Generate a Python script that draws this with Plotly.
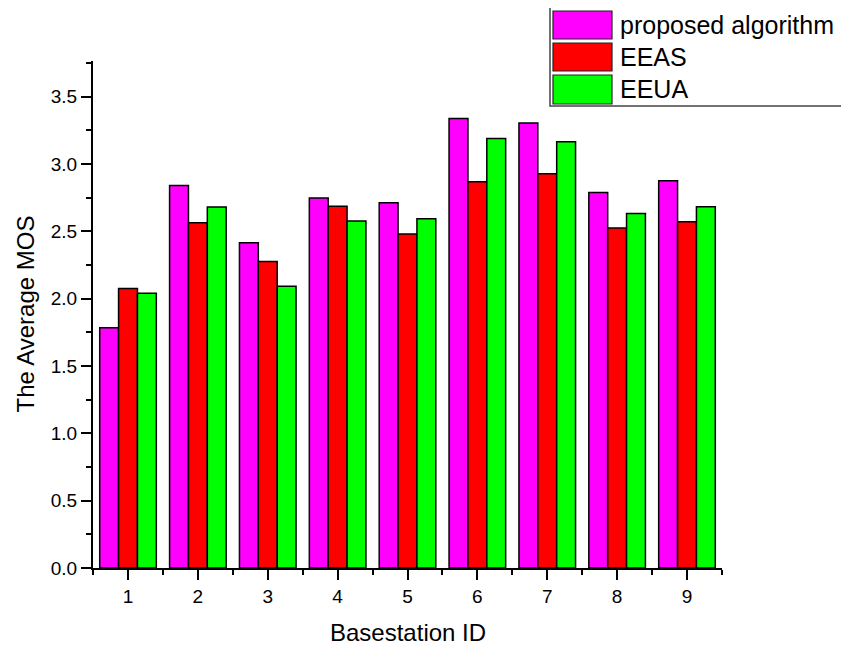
import plotly.graph_objects as go

basestation_ids = [1, 2, 3, 4, 5, 6, 7, 8, 9]
proposed = [1.785, 2.84, 2.415, 2.747, 2.712, 3.338, 3.304, 2.788, 2.875]
eeas = [2.075, 2.563, 2.276, 2.687, 2.481, 2.868, 2.927, 2.524, 2.571]
eeua = [2.04, 2.68, 2.093, 2.576, 2.593, 3.19, 3.165, 2.632, 2.682]
series_names = ["proposed algorithm", "EEAS", "EEUA"]
series_colors = ["#FF00FF", "#FF0000", "#00FF00"]
y_tick_vals = [0.0, 0.5, 1.0, 1.5, 2.0, 2.5, 3.0, 3.5]

# window is 849x648; the page body adds an 8px offset
OFF = 8
WIN_W, WIN_H = 849, 648
L_PX, R_PX, T_PX, B_PX = 93, 722, 61, 568   # plot area in window pixels
W, H = WIN_W - OFF, WIN_H - OFF
ML, MT = L_PX - OFF, T_PX - OFF
MR, MB = WIN_W - R_PX, WIN_H - B_PX
PW, PH = R_PX - L_PX, B_PX - T_PX
FONT = "Arial, Liberation Sans, sans-serif"


def px2x(px):
    return (px - L_PX) / PW


def py2y(py):
    return (B_PX - py) / PH


fig = go.Figure()
for name, vals, col in zip(series_names, [proposed, eeas, eeua], series_colors):
    fig.add_trace(go.Bar(
        x=basestation_ids, y=vals, name=name,
        marker=dict(color=col, line=dict(color="black", width=1.5)),
        showlegend=False,
    ))

# custom legend (box with large swatches)
shapes = [dict(type="rect", xref="paper", yref="paper",
               x0=px2x(550), x1=px2x(847), y0=py2y(106), y1=py2y(5),
               line=dict(color="#444444", width=1.5), fillcolor="white")]
annotations = []
rows = [(11, 39), (43, 71), (75, 104)]
for (t, b), name, col in zip(rows, series_names, series_colors):
    shapes.append(dict(type="rect", xref="paper", yref="paper",
                       x0=px2x(553), x1=px2x(612), y0=py2y(b), y1=py2y(t),
                       line=dict(color="#222222", width=1.2), fillcolor=col))
    annotations.append(dict(xref="paper", yref="paper", x=px2x(618),
                            y=py2y((t + b) / 2), text=name, showarrow=False,
                            xanchor="left", yanchor="middle",
                            font=dict(family=FONT, size=25, color="black")))

# axis titles
annotations.append(dict(xref="paper", yref="paper", x=px2x(408), y=py2y(632),
                        text="Basestation ID", showarrow=False,
                        xanchor="center", yanchor="middle",
                        font=dict(family=FONT, size=24, color="black")))
annotations.append(dict(xref="paper", yref="paper", x=px2x(25), y=py2y(314.5),
                        text="The Average MOS", showarrow=False, textangle=-90,
                        xanchor="center", yanchor="middle",
                        font=dict(family=FONT, size=24, color="black")))

fig.update_layout(
    width=W, height=H,
    margin=dict(l=ML, r=MR, t=MT, b=MB, pad=0, autoexpand=False),
    paper_bgcolor="white", plot_bgcolor="white",
    barmode="group", bargap=0.19, bargroupgap=0,
    font=dict(family=FONT, size=19, color="black"),
    shapes=shapes, annotations=annotations,
)
fig.update_xaxes(
    range=[0.499, 9.501], tickmode="array", tickvals=basestation_ids,
    ticktext=[str(v) for v in basestation_ids], automargin=False,
    showline=True, linecolor="black", linewidth=2, showgrid=False, zeroline=False,
    ticks="outside", ticklen=10, tickwidth=2, tickcolor="black",
    minor=dict(tickmode="array", tickvals=[i + 0.5 for i in range(0, 10)],
               ticks="outside", ticklen=5, tickwidth=2, tickcolor="black", showgrid=False),
    tickfont=dict(size=19),
)
fig.update_yaxes(
    range=[0, 3.765], tickmode="array", tickvals=y_tick_vals,
    ticktext=[f"{v:.1f}" for v in y_tick_vals], automargin=False,
    showline=True, linecolor="black", linewidth=2, showgrid=False, zeroline=False,
    ticks="outside", ticklen=10, tickwidth=2, tickcolor="black",
    minor=dict(tickmode="array", tickvals=[0.25 + 0.5 * i for i in range(8)],
               ticks="outside", ticklen=5, tickwidth=2, tickcolor="black", showgrid=False),
    tickfont=dict(size=19),
)

fig.write_html("out.html")
